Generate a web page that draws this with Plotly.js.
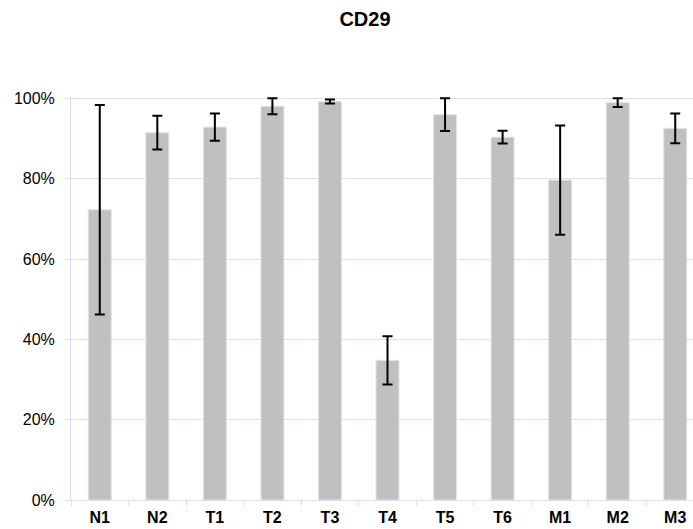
<!DOCTYPE html>
<html>
<head>
<meta charset="utf-8">
<script src="https://cdn.plot.ly/plotly-3.0.1.min.js"></script>
<style>
  html, body { margin: 0; padding: 0; width: 693px; height: 529px; overflow: hidden; background: #fff; }
  #chart { width: 720px; height: 529px; }
</style>
</head>
<body>
<div id="chart"></div>
<script>
// CD29 positive fraction per sample (percent), mean and standard deviation
const categories = ['N1', 'N2', 'T1', 'T2', 'T3', 'T4', 'T5', 'T6', 'M1', 'M2', 'M3'];
const meanValues = [72.3, 91.5, 92.9, 98.1, 99.3, 34.8, 96.0, 90.4, 79.7, 99.0, 92.6];
const sdValues   = [26.1, 4.2, 3.4, 2.0, 0.5, 6.0, 4.1, 1.6, 13.6, 1.1, 3.7];
const yTickVals  = [0, 20, 40, 60, 80, 100];
const yTickText  = ['0%', '20%', '40%', '60%', '80%', '100%'];

const gridColor = '#DCDCF8';
const fontFamily = 'Liberation Sans, Arial, sans-serif';

const trace = {
  type: 'bar',
  x: categories,
  y: meanValues,
  marker: { color: '#C0C0C0', line: { color: '#E4E4E4', width: 1 } },
  error_y: { type: 'data', array: sdValues, visible: true, color: '#000000', thickness: 2, width: 5 },
  hoverinfo: 'skip'
};

const layout = {
  width: 720,
  height: 529,
  margin: { l: 71, r: 16, t: 97, b: 29 },
  paper_bgcolor: '#ffffff',
  plot_bgcolor: '#ffffff',
  showlegend: false,
  bargap: 0.6,
  font: { family: fontFamily, color: '#000000', size: 16 },
  title: {
    text: '<b>CD29</b>',
    font: { size: 20, family: fontFamily, color: '#000000' },
    xref: 'container', x: 365 / 720, xanchor: 'center',
    yref: 'container', y: 1 - 19 / 529, yanchor: 'middle'
  },
  xaxis: {
    type: 'category',
    showline: true, linecolor: gridColor, linewidth: 1,
    ticks: 'outside', tickson: 'boundaries', ticklen: 5, tickcolor: gridColor, tickwidth: 1,
    tickfont: { size: 16, family: fontFamily, weight: 'bold' },
    ticklabelstandoff: 3,
    showgrid: false,
    zeroline: false,
    fixedrange: true
  },
  yaxis: {
    range: [0, 100.4],
    tickvals: yTickVals,
    ticktext: yTickText,
    showline: true, linecolor: gridColor, linewidth: 1,
    ticks: 'outside', ticklen: 5, tickcolor: gridColor, tickwidth: 1,
    showgrid: true, gridcolor: gridColor, gridwidth: 1,
    zeroline: false,
    tickfont: { size: 16, family: fontFamily },
    ticklabelstandoff: 7,
    fixedrange: true
  }
};

Plotly.newPlot('chart', [trace], layout, { displayModeBar: false, staticPlot: true });
</script>
</body>
</html>
